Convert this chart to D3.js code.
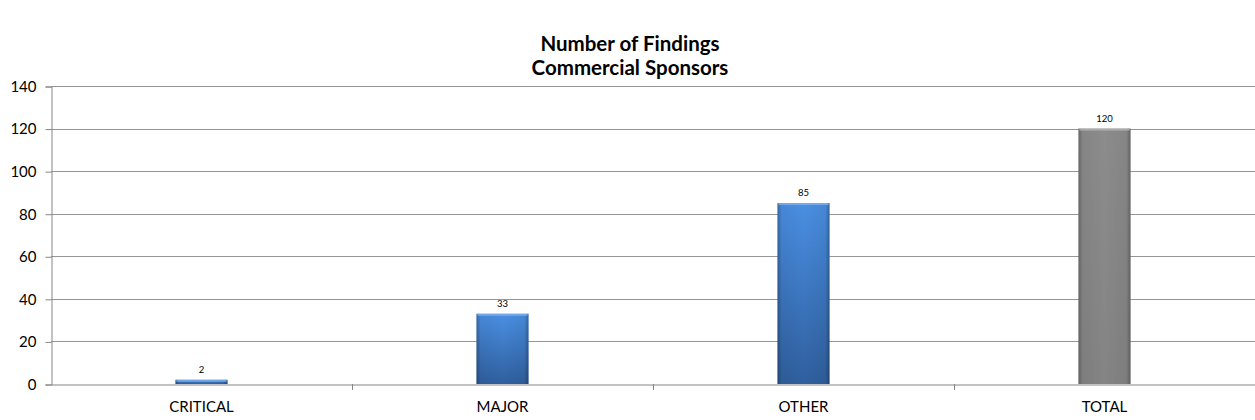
<!DOCTYPE html>
<html><head><meta charset="utf-8">
<script src="https://cdn.jsdelivr.net/npm/d3@7"></script>
<style>body{margin:0;background:#fff;}svg{display:block;font-family:Lato,"Liberation Sans",sans-serif;}</style>
</head><body><svg id="c" width="1255" height="420"></svg>
<script>
const titleLines = ["Number of Findings", "Commercial Sponsors"];
const categories = ["CRITICAL", "MAJOR", "OTHER", "TOTAL"];
const values = [2, 33, 85, 120];
const barKinds = ["blue", "blue", "blue", "gray"];
const yTicks = [0, 20, 40, 60, 80, 100, 120, 140];

const svg = d3.select("#c");
const m = {l: 51, r: 0, t: 86, b: 36};
const W = 1255, H = 420;
const x = d3.scaleBand().domain(categories).range([m.l, W - m.r]).paddingInner(0).paddingOuter(0);
const barW = x.bandwidth() * 0.173;
const y = d3.scaleLinear().domain([0, 140]).range([H - m.b, m.t]);

const defs = svg.append("defs");
function grad(id, stops, horiz) {
  const g = defs.append("linearGradient").attr("id", id)
    .attr("x1", 0).attr("y1", 0).attr("x2", horiz ? 1 : 0).attr("y2", horiz ? 0 : 1);
  stops.forEach(s => g.append("stop").attr("offset", s[0]).attr("stop-color", s[1]).attr("stop-opacity", s[2] == null ? 1 : s[2]));
}
grad("blueV", [[0, "#4a8fe2"], [1, "#2f5f9e"]], false);
grad("grayV", [[0, "#8c8c8c"], [1, "#848484"]], false);
grad("edgeH", [[0, "#000", 0.28], [0.08, "#000", 0.05], [0.5, "#000", 0], [0.92, "#000", 0.05], [1, "#000", 0.3]], true);

// title
svg.append("g").selectAll("text").data(titleLines).join("text")
  .attr("x", 630).attr("y", (d, i) => 51 + i * 24)
  .attr("text-anchor", "middle").attr("font-weight", "bold").attr("font-size", 20.5)
  .attr("fill", "#000").text(d => d);

// gridlines
svg.append("g").selectAll("line").data(yTicks.filter(d => d > 0)).join("line")
  .attr("x1", m.l).attr("x2", W).attr("y1", d => Math.round(y(d)) + 0.5).attr("y2", d => Math.round(y(d)) + 0.5)
  .attr("stroke", "#969696").attr("stroke-width", 1);

// y axis
const yAxis = d3.axisLeft(y).tickValues(yTicks).tickSize(6).tickPadding(9);
const gy = svg.append("g").attr("transform", `translate(${m.l + 0.5},0.5)`).call(yAxis);
gy.select(".domain").attr("stroke", "#868686");
gy.selectAll(".tick line").attr("stroke", "#868686");
gy.selectAll(".tick text").attr("font-size", 15).attr("fill", "#000").attr("font-family", "Lato,sans-serif");

// bars
const bars = svg.append("g").selectAll("g").data(categories).join("g");
bars.append("rect")
  .attr("x", d => x(d) + x.bandwidth() / 2 - barW / 2)
  .attr("width", barW)
  .attr("y", (d, i) => y(values[i]))
  .attr("height", (d, i) => y(0) - y(values[i]))
  .attr("fill", (d, i) => barKinds[i] === "blue" ? "url(#blueV)" : "url(#grayV)");
bars.append("rect")
  .attr("x", d => x(d) + x.bandwidth() / 2 - barW / 2)
  .attr("width", barW)
  .attr("y", (d, i) => y(values[i]))
  .attr("height", (d, i) => y(0) - y(values[i]))
  .attr("fill", "url(#edgeH)");
// top highlight
bars.append("rect")
  .attr("x", d => x(d) + x.bandwidth() / 2 - barW / 2 + 1)
  .attr("width", barW - 2)
  .attr("y", (d, i) => y(values[i]))
  .attr("height", (d, i) => Math.min(2, y(0) - y(values[i])))
  .attr("fill", (d, i) => barKinds[i] === "blue" ? "#7fb2ee" : "#b5b5b5").attr("opacity", 0.8);

// data labels
bars.append("text")
  .attr("x", d => x(d) + x.bandwidth() / 2)
  .attr("y", (d, i) => y(values[i]) - 7)
  .attr("text-anchor", "middle").attr("font-size", 9.5).attr("fill", "#000")
  .text((d, i) => values[i]);

// x axis
const xAxis = d3.axisBottom(x).tickSize(0).tickPadding(17);
const gx = svg.append("g").attr("transform", `translate(0,${Math.round(y(0)) + 0.5})`).call(xAxis);
gx.select(".domain").attr("stroke", "#868686");
gx.selectAll(".tick text").attr("font-size", 15).attr("fill", "#000").attr("font-family", "Lato,sans-serif");
// category boundary ticks
svg.append("g").selectAll("line").data(categories.slice(1)).join("line")
  .attr("x1", d => Math.round(x(d)) + 0.5).attr("x2", d => Math.round(x(d)) + 0.5)
  .attr("y1", Math.round(y(0))).attr("y2", Math.round(y(0)) + 6)
  .attr("stroke", "#868686");
</script></body></html>
